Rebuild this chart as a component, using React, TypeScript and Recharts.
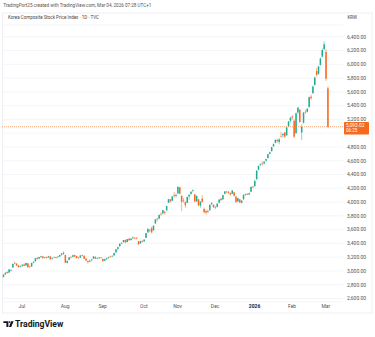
import React from 'react';
import { ComposedChart, Bar, XAxis, YAxis, CartesianGrid, ReferenceLine } from 'recharts';

// Daily candles, 17 Jun 2025 -> 04 Mar 2026 (index = trading day)
const opens = [2915,2950,2985,2975,3005,3050,3115,3105,3080,3060,
3075,3095,3080,3110,3065,3065,3120,3140,3190,3180,3205,3210,3195,3200,3195,3210,3175,3200,3190,3200,3210,3235,3265,
3230,3120,3160,3205,3205,3230,3215,3195,3195,3230,3220,3180,3145,3135,3155,3180,3205,3180,3185,3195,
3175,3150,3170,3190,3210,3210,3225,3270,3320,3360,3400,3420,3450,3420,3470,3450,3475,3480,3480,3430,3400,3435,
3430,3480,3560,3590,3620,3590,3690,3760,3760,3830,3835,3860,3880,3990,4040,4020,4100,4090,
4125,4215,4090,4030,4000,3990,4080,4120,4160,4110,4010,4040,3950,4050,3900,3870,3870,3880,3970,3960,
3930,3930,3990,4050,4040,4120,4150,4150,4130,4120,4140,4080,4010,4040,3990,4040,4110,4120,4110,4150,4225,
4230,4330,4470,4540,4560,4560,4600,4640,4700,4740,4810,4860,4900,4870,4960,4970,5010,4970,5100,5180,5240,
5180,5000,5300,5340,5010,5150,5310,5310,5380,5530,5580,5700,5900,5860,5990,6110,6220,
6180,5650];
const highs = [2950,2980,2995,3030,3025,3105,3135,3115,3090,3080,
3100,3110,3120,3115,3075,3120,3140,3190,3200,3205,3220,3215,3205,3210,3220,3215,3190,3210,3205,3215,3235,3255,3285,
3235,3150,3200,3210,3235,3235,3220,3205,3230,3240,3225,3185,3150,3160,3175,3215,3210,3195,3200,3200,
3180,3175,3190,3205,3220,3225,3265,3317,3350,3400,3420,3450,3455,3465,3475,3475,3497,3490,3490,3435,3440,3445,
3460,3550,3617,3615,3645,3660,3750,3770,3815,3850,3885,3870,3945,4045,4045,4085,4146,4115,
4226,4220,4100,4060,4010,4080,4110,4155,4185,4120,4095,4045,4015,4100,3920,3890,3890,3965,3995,3970,
3945,3985,4040,4060,4105,4160,4165,4160,4140,4175,4150,4090,4065,4045,4030,4110,4125,4130,4135,4225,4230,
4315,4460,4530,4560,4590,4595,4630,4700,4730,4800,4850,4910,4920,4930,5020,4995,5020,5090,5175,5240,5260,
5200,5300,5380,5350,5130,5310,5340,5365,5530,5560,5690,5820,5950,5980,6100,6230,6330,
6220,5680];
const lows = [2905,2940,2960,2970,2990,3045,3095,3070,3050,3050,
3060,3065,3075,3045,3040,3060,3110,3135,3165,3170,3190,3175,3180,3180,3190,3160,3165,3185,3180,3185,3200,3220,3235,
3115,3105,3155,3180,3200,3200,3180,3175,3190,3215,3170,3140,3105,3125,3145,3175,3170,3170,3175,3180,
3135,3140,3160,3175,3195,3200,3220,3265,3300,3350,3390,3410,3405,3415,3435,3440,3465,3460,3460,3380,3395,3410,
3420,3475,3550,3560,3540,3585,3680,3720,3750,3800,3820,3820,3875,3985,3990,4015,4070,4060,
4120,4110,3867,3990,3920,3985,4035,4100,4140,3990,4000,3935,3915,3990,3840,3820,3840,3875,3955,3915,
3895,3920,3980,4010,4030,4110,4125,4120,4090,4115,4080,3990,4000,3980,3980,4035,4090,4100,4100,4145,4200,
4225,4325,4460,4520,4530,4545,4590,4630,4690,4730,4800,4850,4860,4840,4940,4930,4930,4960,5090,5150,5190,
4930,4990,5280,5150,4900,5140,5280,5300,5370,5480,5570,5690,5820,5850,5980,6100,6200,
5760,5070];
const closes = [2946,2972,2970,3021,3014,3103,3108,3079,3055,3071,
3089,3075,3116,3054,3059,3115,3133,3183,3175,3202,3215,3187,3192,3188,3211,3169,3184,3196,3196,3209,3230,3254,3245,
3119,3147,3198,3199,3227,3210,3189,3189,3224,3225,3177,3151,3130,3150,3168,3210,3179,3187,3196,3186,
3142,3172,3184,3200,3205,3219,3260,3314,3344,3395,3407,3449,3413,3461,3445,3469,3486,3472,3471,3386,3431,3424,
3455,3549,3610,3585,3561,3657,3748,3748,3814,3823,3883,3845,3941,4042,4010,4081,4086,4107,
4221,4121,4004,4026,3953,4073,4106,4150,4170,4011,4089,3953,4004,4004,3853,3846,3857,3960,3986,3926,
3920,3977,4036,4028,4100,4154,4143,4135,4110,4167,4090,3999,4056,3994,4020,4105,4117,4108,4129,4220,4214,
4309,4457,4525,4551,4552,4586,4624,4692,4723,4797,4840,4904,4885,4909,4952,4990,4950,5084,5170,5221,5224,
4949,5288,5371,5163,5089,5298,5301,5354,5522,5507,5677,5808,5846,5969,6083,6207,6290,
5791,5093.02];

const monthTickIdx = [10, 33, 53, 75, 93, 113, 134, 154, 172];
const monthTickLabels = ['Jul', 'Aug', 'Sep', 'Oct', 'Nov', 'Dec', '2026', 'Feb', 'Mar'];
const priceTicks = [2600, 2800, 3000, 3200, 3400, 3600, 3800, 4000, 4200, 4400, 4600, 4800, 5000, 5200, 5400, 5600, 5800, 6000, 6200, 6400];
const hiddenPriceTick = 5000;
const countdown = '06:25';
const titleText = 'TradingPort25 created with TradingView.com, Mar 04, 2026 07:28 UTC+1';
const legendText = 'Korea Composite Stock Price Index · 1D · TVC';
const currency = 'KRW';

const UP = '#22ab94';
const DOWN = '#f7691f';
const FONT = 'Roboto, "DejaVu Sans", sans-serif';

const lastPrice = closes[closes.length - 1];

const data = closes.map((c, i) => ({
  i,
  o: opens[i],
  h: highs[i],
  l: lows[i],
  c,
  range: [lows[i], highs[i]],
}));

const fmt = (v: number) =>
  v.toLocaleString('en-US', { minimumFractionDigits: 2, maximumFractionDigits: 2 });

const Candle = (props: any) => {
  const { x, y, width, height, payload } = props;
  if (!payload || x == null || y == null) return <g />;
  const { o, h, l, c } = payload;
  const top = height >= 0 ? y : y + height;
  const hh = Math.abs(height);
  const span = h - l || 1;
  const k = hh / span;
  const yO = top + (h - o) * k;
  const yC = top + (h - c) * k;
  const color = c >= o ? UP : DOWN;
  const cx = x + width / 2;
  const bw = 1.5;
  return (
    <g>
      <line x1={cx} x2={cx} y1={top} y2={top + hh} stroke={color} strokeWidth={0.5} />
      <rect x={cx - bw / 2} y={Math.min(yO, yC)} width={bw} height={Math.max(Math.abs(yO - yC), 0.6)} fill={color} />
    </g>
  );
};

const PriceTick = (props: any) => {
  const { x, y, payload } = props;
  if (payload.value === hiddenPriceTick) return <g />;
  return (
    <text x={x} y={y} dy={1.8} fontSize={5} fill="#555" fontFamily={FONT} textAnchor="start">
      {fmt(payload.value)}
    </text>
  );
};

const TimeTick = (props: any) => {
  const { x, y, payload } = props;
  const idx = monthTickIdx.indexOf(payload.value);
  const label = idx >= 0 ? monthTickLabels[idx] : '';
  const bold = label === '2026';
  return (
    <text x={x} y={y} dy={3.6} fontSize={5} fill={bold ? '#222' : '#555'} fontWeight={bold ? 700 : 400} fontFamily={FONT} textAnchor="middle">
      {label}
    </text>
  );
};

const PriceBox = (props: any) => {
  const vb = props.viewBox || {};
  const ly = vb.y ?? 0;
  const bx = 344;
  return (
    <g>
      <rect x={bx} y={ly - 4.8} width={25} height={12.6} fill={DOWN} rx={0.8} />
      <text x={bx + 2} y={ly - 0.2} fontSize={4.8} fill="#fff" fontFamily={FONT}>{fmt(lastPrice)}</text>
      <text x={bx + 2} y={ly + 5.6} fontSize={4.5} fill="#fff" fontFamily={FONT}>{countdown}</text>
    </g>
  );
};

export default function App() {
  return (
    <div style={{ position: 'absolute', left: 0, top: 0, width: 375, height: 337, background: '#fff' }}>
      <svg width={375} height={337} style={{ position: 'absolute', left: 0, top: 0 }}>
        <rect x={0} y={0} width={375} height={337} fill="#fff" />
        <text x={3.3} y={7.4} fontSize={4.6} fill="#555" fontFamily={FONT}>{titleText}</text>
        <rect x={2.5} y={13} width={369.5} height={300} fill="none" stroke="#e3e5ea" strokeWidth={0.6} />
        <text x={8} y={19} fontSize={4.5} fill="#444" fontFamily={FONT}>{legendText}</text>
        <text x={347.5} y={19} fontSize={4.5} fill="#444" fontFamily={FONT}>{currency}</text>
        {/* TradingView logo */}
        <g fill="#131722">
          <path d="M3.4 321.2 H8.4 V327 H6.4 V323 H3.4 Z" />
          <circle cx={9.6} cy={322.1} r={0.95} />
          <path d="M11.2 321.2 H13.6 L11.2 327 H8.9 Z" />
        </g>
        <text x={15} y={327.2} fontSize={8.6} fontWeight={700} fill="#131722" fontFamily={FONT}>TradingView</text>
      </svg>
      <div style={{ position: 'absolute', left: 0, top: 0 }}>
        <ComposedChart
          width={375}
          height={337}
          data={data}
          margin={{ top: 25, right: 0, bottom: 23, left: 2.3 }}
          barCategoryGap="10%"
        >
          <CartesianGrid vertical={false} stroke="#eceef3" strokeWidth={0.6} />
          <XAxis
            dataKey="i"
            type="category"
            ticks={monthTickIdx}
            interval={0}
            tick={<TimeTick />}
            tickLine={false}
            axisLine={false}
            tickSize={0}
            tickMargin={2}
            height={12}
            padding={{ left: 0, right: 14.4 }}
          />
          <YAxis
            orientation="right"
            domain={[2549, 6570]}
            ticks={priceTicks}
            interval={0}
            allowDataOverflow
            tick={<PriceTick />}
            tickLine={false}
            axisLine={false}
            tickSize={0}
            tickMargin={4}
            width={32}
          />
          <ReferenceLine
            y={lastPrice}
            stroke={DOWN}
            strokeDasharray="1 1"
            strokeWidth={0.6}
            label={(p: any) => <PriceBox {...p} />}
          />
          <Bar dataKey="range" shape={<Candle />} isAnimationActive={false} />
        </ComposedChart>
      </div>
    </div>
  );
}
